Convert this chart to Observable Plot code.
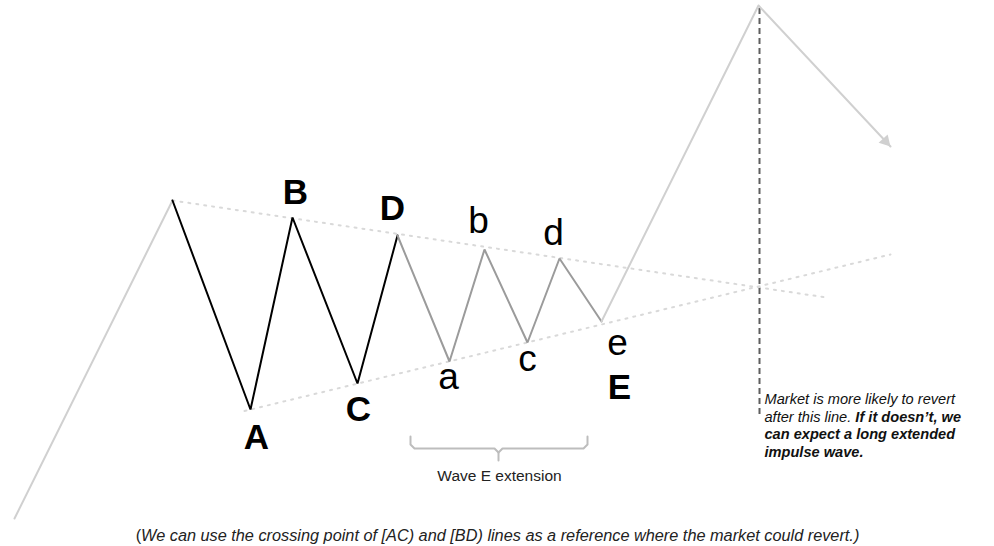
<!DOCTYPE html>
<html>
<head>
<meta charset="utf-8">
<script src="https://cdn.jsdelivr.net/npm/d3@7"></script>
<script src="https://cdn.jsdelivr.net/npm/@observablehq/plot@0.6"></script>
<style>
  html, body { margin: 0; padding: 0; background: #fff; }
  #chart svg { display: block; }
</style>
</head>
<body>
<div id="chart"></div>
<script>
// ---- Data (pixel-space diagram coordinates) ----
const pivotNames = ["start", "X", "A", "B", "C", "D", "a", "b", "c", "d", "e", "top", "target"];
const pivotX = [14, 172, 250, 292, 357, 397, 449, 484, 527, 559, 601, 758, 890];
const pivotY = [518, 200, 409, 217, 383, 235, 361, 249, 342, 258, 321, 5, 146];

const bigLabels = ["A", "B", "C", "D", "E"];
const bigLabelX = [256, 295, 358, 392, 619];
const bigLabelY = [448, 203, 420, 219, 398];

const smallLabels = ["a", "b", "c", "d", "e"];
const smallLabelX = [448, 478, 527, 553, 617];
const smallLabelY = [388, 232, 370, 244, 354];

const upperTrendX = [172, 826];
const upperTrendY = [200, 297];
const lowerTrendX = [244, 890];
const lowerTrendY = [410.5, 254];

const revertX = [759];
const revertY1 = [8];
const revertY2 = [418];

const bracketLeftX = [410, 410, 414, 494, 498, 498];
const bracketLeftY = [436, 444, 448, 448, 452, 460];
const bracketRightX = [498, 502, 583, 587, 587];
const bracketRightY = [452, 448, 448, 444, 436];
const bracketLabel = ["Wave E extension"];
const bracketLabelX = [499];
const bracketLabelY = [480];

const noteX = 764;
const noteBaselines = [403, 421, 438.5, 456];
const noteRuns = [
  [{t: "Market is more likely to revert", b: false}],
  [{t: "after this line. ", b: false}, {t: "If it doesn\u2019t, we", b: true}],
  [{t: "can expect a long extended", b: true}],
  [{t: "impulse wave.", b: true}]
];

const captionRuns = [
  {t: "(", i: false},
  {t: "We can use the crossing point of [AC) and [BD) lines as a reference where the market could revert.)", i: true}
];
const captionX = [497];
const captionY = [540];

// ---- Build tables ----
const pivots = pivotNames.map((n, i) => ({name: n, x: pivotX[i], y: pivotY[i]}));
const zip = (xs, ys) => xs.map((x, i) => ({x, y: ys[i]}));
const labelsOf = (ts, xs, ys) => ts.map((t, i) => ({t, x: xs[i], y: ys[i]}));

const FONT = "'Liberation Sans', Arial, Helvetica, sans-serif";
const LIGHT = "#d0d0d0";
const MID = "#9b9b9b";
const DOT = "#d9d9d9";

// arrowhead orientation derived from the last leg
const pTop = pivots[11], pEnd = pivots[12];
const ang = Math.atan2(pEnd.y - pTop.y, pEnd.x - pTop.x);
const headR = 4.6;
const headOffset = 7.2;

// rich text helper: one text mark, content replaced with styled tspans
function rich(runs, opts) {
  return Plot.text([runs.map(r => r.t).join("")], {
    ...opts,
    text: d => d,
    render(index, scales, values, dims, ctx, next) {
      const g = next(index, scales, values, dims, ctx);
      const t = g.querySelector("text");
      t.textContent = "";
      for (const r of runs) {
        const ts = document.createElementNS("http://www.w3.org/2000/svg", "tspan");
        ts.textContent = r.t;
        if (r.b !== undefined) ts.setAttribute("font-weight", r.b ? "bold" : "normal");
        if (r.i !== undefined) ts.setAttribute("font-style", r.i ? "italic" : "normal");
        t.appendChild(ts);
      }
      return g;
    }
  });
}

const marks = [
  // trend lines (dotted)
  Plot.line(zip(upperTrendX, upperTrendY), {x: "x", y: "y", stroke: DOT, strokeWidth: 2, strokeDasharray: "2,6"}),
  Plot.line(zip(lowerTrendX, lowerTrendY), {x: "x", y: "y", stroke: DOT, strokeWidth: 2, strokeDasharray: "2,6"}),
  // reversion line
  Plot.ruleX(revertX, {x: d => d, y1: () => revertY1[0], y2: () => revertY2[0], stroke: "#5e5e5e", strokeWidth: 2, strokeDasharray: "6,4"}),
  // wave legs
  Plot.line(pivots.slice(0, 2), {x: "x", y: "y", stroke: LIGHT, strokeWidth: 2}),
  Plot.line(pivots.slice(1, 6), {x: "x", y: "y", stroke: "#000", strokeWidth: 2, strokeLinejoin: "miter"}),
  Plot.line(pivots.slice(5, 11), {x: "x", y: "y", stroke: MID, strokeWidth: 2, strokeLinejoin: "miter"}),
  Plot.line(pivots.slice(10, 13), {x: "x", y: "y", stroke: LIGHT, strokeWidth: 2}),
  Plot.dot([pEnd], {
    x: "x", y: "y", symbol: "triangle", r: headR, fill: LIGHT, stroke: "none",
    rotate: ang * 180 / Math.PI + 90,
    dx: -Math.cos(ang) * headOffset, dy: -Math.sin(ang) * headOffset
  }),
  // labels
  Plot.text(labelsOf(bigLabels, bigLabelX, bigLabelY), {
    x: "x", y: "y", text: "t", fontSize: 35, fontWeight: "bold", fill: "#000",
    textAnchor: "middle", lineAnchor: "bottom"
  }),
  Plot.text(labelsOf(smallLabels, smallLabelX, smallLabelY), {
    x: "x", y: "y", text: "t", fontSize: 37, fill: "#000",
    textAnchor: "middle", lineAnchor: "bottom"
  }),
  // bracket
  Plot.line(zip(bracketLeftX, bracketLeftY), {x: "x", y: "y", stroke: "#bdbdbd", strokeWidth: 2, curve: "linear"}),
  Plot.line(zip(bracketRightX, bracketRightY), {x: "x", y: "y", stroke: "#bdbdbd", strokeWidth: 2, curve: "linear"}),
  Plot.text(labelsOf(bracketLabel, bracketLabelX, bracketLabelY), {
    x: "x", y: "y", text: "t", fontSize: 15.5, fill: "#222",
    textAnchor: "middle", lineAnchor: "bottom"
  }),
  // note
  ...noteRuns.map((runs, i) => rich(runs, {
    x: () => noteX, y: () => noteBaselines[i], fontSize: 14.6, fontStyle: "italic",
    fill: "#111", textAnchor: "start", lineAnchor: "bottom"
  })),
  // caption
  rich(captionRuns, {
    x: () => captionX[0], y: () => captionY[0], fontSize: 16.3, fill: "#222",
    textAnchor: "middle", lineAnchor: "bottom"
  })
];

const chart = Plot.plot({
  width: 994,
  height: 546,
  margin: 0,
  x: {domain: [0, 994], axis: null},
  y: {domain: [546, 0], axis: null},
  style: {fontFamily: FONT, background: "#fff", overflow: "visible"},
  marks
});
document.getElementById("chart").appendChild(chart);
</script>
</body>
</html>
